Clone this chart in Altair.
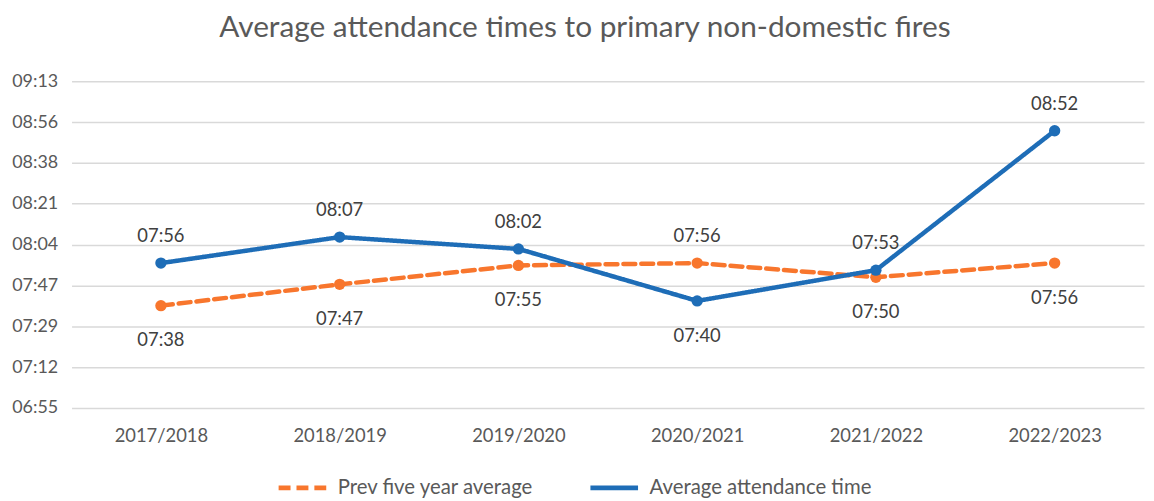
import altair as alt
import pandas as pd

years = ["2017/2018", "2018/2019", "2019/2020", "2020/2021", "2021/2022", "2022/2023"]
prev_avg = ["07:38", "07:47", "07:55", "07:56", "07:50", "07:56"]
avg_time = ["07:56", "08:07", "08:02", "07:40", "07:53", "08:52"]
series_names = ["Prev five year average", "Average attendance time"]
series_colors = ["#F8762D", "#1E6DB7"]
y_ticks = [414.72, 432.0, 449.28, 466.56, 483.84, 501.12, 518.4, 535.68, 552.96]

FONT = "Lato"
GREY = "#595959"


def to_min(s):
    h, m = s.split(":")
    return int(h) * 60 + int(m)


rows = []
for name, vals, other in [(series_names[0], prev_avg, avg_time), (series_names[1], avg_time, prev_avg)]:
    for yr, v, o in zip(years, vals, other):
        rows.append({
            "year": yr,
            "series": name,
            "minutes": to_min(v),
            "label": v,
            "pos": "above" if to_min(v) > to_min(o) else "below",
        })
df = pd.DataFrame(rows)

x_enc = alt.X("year:N", sort=years, scale=alt.Scale(padding=0.5),
              axis=alt.Axis(title=None, labelAngle=0, labelFont=FONT, labelFontSize=18.5,
                            labelColor=GREY, labelPadding=19, domain=False, ticks=False, grid=False))
y_enc = alt.Y("minutes:Q", scale=alt.Scale(domain=[y_ticks[0], y_ticks[-1]], nice=False, zero=False),
              axis=alt.Axis(title=None, values=y_ticks,
                            labelExpr="(floor(datum.value/60) < 10 ? '0' : '') + floor(datum.value/60) + ':' + (round(datum.value%60) < 10 ? '0' : '') + round(datum.value%60)",
                            labelFont=FONT, labelFontSize=18, labelColor=GREY, labelPadding=14,
                            domain=False, ticks=False, grid=True, gridColor="#D9D9D9", gridWidth=1.5))
legend = alt.Legend(title=None, orient="none", direction="horizontal",
                    legendX=206, legendY=383, symbolType="stroke",
                    symbolSize=2300, symbolStrokeWidth=5, columnPadding=46,
                    labelFont=FONT, labelFontSize=20.5, labelColor=GREY,
                    labelLimit=400, labelOffset=9)
color_enc = alt.Color("series:N", scale=alt.Scale(domain=series_names, range=series_colors), legend=legend)
dash_enc = alt.StrokeDash("series:N", scale=alt.Scale(domain=series_names, range=[[12, 6], [1, 0]]), legend=legend)

base = alt.Chart(df).encode(x=x_enc, y=y_enc)

lines = base.mark_line(strokeWidth=4.5, strokeCap="round").encode(color=color_enc, strokeDash=dash_enc)
points = base.mark_circle(size=130, opacity=1).encode(
    color=alt.Color("series:N", scale=alt.Scale(domain=series_names, range=series_colors), legend=None))
above = base.transform_filter("datum.pos == 'above'").mark_text(
    dy=-27, font=FONT, fontSize=18.5, color="#404040").encode(text="label:N")
below = base.transform_filter("datum.pos == 'below'").mark_text(
    dy=35, font=FONT, fontSize=18.5, color="#404040").encode(text="label:N")

chart = alt.layer(lines, points, above, below).properties(
    width=1080, height=329,
    title=alt.TitleParams("Average attendance times to primary non-domestic fires",
                          font=FONT, fontSize=30, fontWeight="normal", color=GREY,
                          anchor="middle", dx=-23, offset=30),
    autosize=alt.AutoSizeParams(type="none"),
    padding={"left": 64, "top": 72, "right": 2, "bottom": 92},
).configure_view(stroke=None)

chart.save("out.html", embed_options={"renderer": "svg", "actions": False})
